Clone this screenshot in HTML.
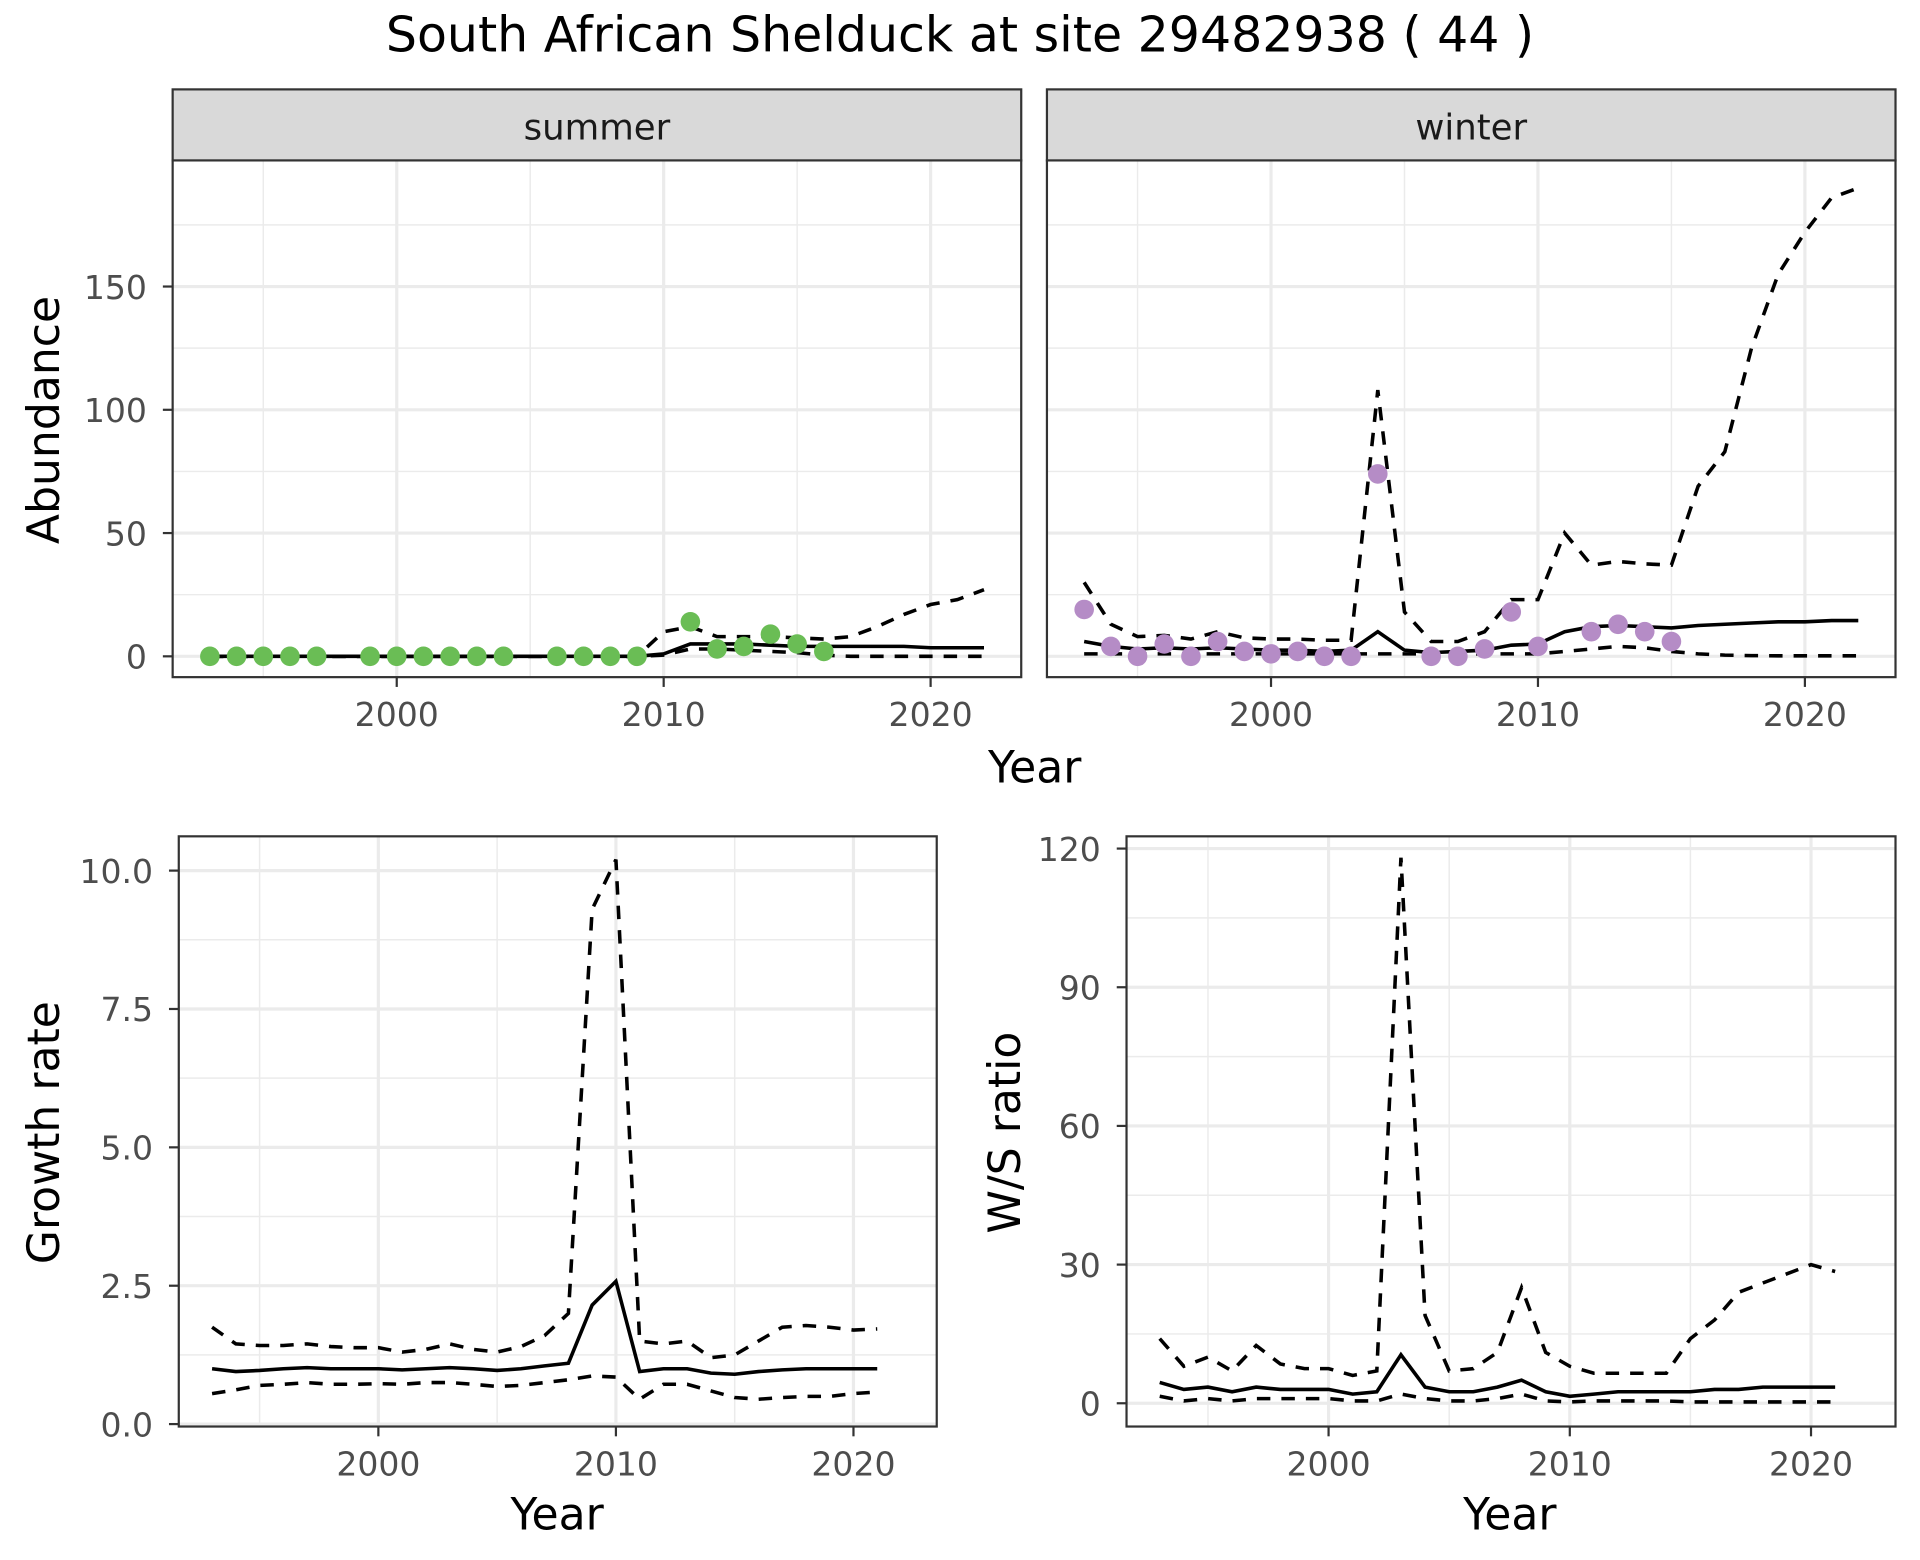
<!DOCTYPE html>
<html><head><meta charset="utf-8"><style>
html,body{margin:0;padding:0;background:#fff}
svg{display:block;font-family:"DejaVu Sans","Liberation Sans",sans-serif}
</style></head><body>
<svg id="c" width="1920" height="1560" viewBox="0 0 1568 1274" preserveAspectRatio="none">
<text x="784" y="42" font-size="40" text-anchor="middle" fill="#000">South African Shelduck at site 29482938 ( 44 )</text>
</svg>
<script>
// Summer
const sumPtYears=[1993,1994,1995,1996,1997,1999,2000,2001,2002,2003,2004,2006,2007,2008,2009,2011,2012,2013,2014,2015,2016];
const sumPtVals=[0,0,0,0,0,0,0,0,0,0,0,0,0,0,0,14,3,4,9,5,2];
const sumLineYears=[1993,1994,1995,1996,1997,1998,1999,2000,2001,2002,2003,2004,2005,2006,2007,2008,2009,2010,2011,2012,2013,2014,2015,2016,2017,2018,2019,2020,2021,2022];
const sumMean=[0,0,0,0,0,0,0,0,0,0,0,0,0,0,0,0,0,1,5,5,5,4.5,4,4,4,4,4,3.5,3.5,3.5];
const sumUpper=[0,0,0,0,0,0,0,0,0,0,0,0,0,0,0,0,0,10,12,8,8,8,7.5,7,8,12,17,21,23,27];
const sumLower=[0,0,0,0,0,0,0,0,0,0,0,0,0,0,0,0,0,0.5,3,3,2.5,2,1.5,0.5,0,0,0,0,0,0];
// Winter
const winPtYears=[1993,1994,1995,1996,1997,1998,1999,2000,2001,2002,2003,2004,2006,2007,2008,2009,2010,2012,2013,2014,2015];
const winPtVals=[19,4,0,5,0,6,2,1,2,0,0,74,0,0,3,18,4,10,13,10,6];
const winLineYears=sumLineYears;
const winMean=[6,4,3,3.5,3,3.5,3,2.5,2.5,2,2.5,10,2.5,1.5,2,2.5,4.5,5,10,12,12.5,12,11.5,12.5,13,13.5,14,14,14.5,14.5];
const winUpper=[30,13,8,8.5,7,10,7.5,7,7,6.5,6.5,108,18,6,6,10,23,23,50,37,38.5,37.5,37,69,83,125,155,172,186,190];
const winLower=[1,1,1,1,1,1,1,1,1,1,1,1,1,1,1,1,1,1,2,3,4,3.5,2,1,0.5,0.3,0.2,0.2,0.2,0.2];
// Growth rate
const grYears=[1993,1994,1995,1996,1997,1998,1999,2000,2001,2002,2003,2004,2005,2006,2007,2008,2009,2010,2011,2012,2013,2014,2015,2016,2017,2018,2019,2020,2021];
const grMean=[1.0,0.95,0.97,1.0,1.02,1.0,1.0,1.0,0.98,1.0,1.02,1.0,0.97,1.0,1.05,1.1,2.15,2.58,0.95,1.0,1.0,0.92,0.9,0.95,0.98,1.0,1.0,1.0,1.0];
const grUpper=[1.75,1.45,1.42,1.42,1.45,1.4,1.38,1.38,1.3,1.35,1.45,1.35,1.3,1.4,1.6,2.0,9.3,10.2,1.5,1.45,1.5,1.2,1.25,1.5,1.75,1.78,1.75,1.7,1.72];
const grLower=[0.55,0.62,0.7,0.72,0.75,0.72,0.72,0.73,0.72,0.75,0.75,0.72,0.68,0.7,0.75,0.8,0.87,0.85,0.45,0.72,0.72,0.6,0.48,0.45,0.48,0.5,0.5,0.55,0.58];
// W/S ratio
const wsYears=grYears;
const wsMean=[4.5,3,3.5,2.5,3.5,3,3,3,2,2.5,10.5,3.5,2.5,2.5,3.5,5,2.5,1.5,2,2.5,2.5,2.5,2.5,3,3,3.5,3.5,3.5,3.5];
const wsUpper=[14,8,10,7,12.5,8.5,7.5,7.5,6,7,118,19,7,7.5,11,25,11,8,6.5,6.5,6.5,6.5,14,18,24,26,28,30,28.5];
const wsLower=[1.5,0.5,1,0.5,1,1,1,1,0.5,0.5,2,1,0.5,0.5,1,2,0.5,0.3,0.5,0.5,0.5,0.5,0.3,0.3,0.3,0.3,0.3,0.3,0.3];
const xTicks=[2000,2010,2020];
const abTicks=[0,50,100,150];
const grTicks=[0,2.5,5,7.5,10];
const grTickLabels=["0.0","2.5","5.0","7.5","10.0"];
const wsTicks=[0,30,60,90,120];

const svg=document.getElementById('c');
const NS='http://www.w3.org/2000/svg';
function mk(tag,attrs,parent){const e=document.createElementNS(NS,tag);for(const k in attrs)e.setAttribute(k,attrs[k]);(parent||svg).appendChild(e);return e;}

function panel(o){
  const g=mk('g',{});
  
  
  const sx=v=>o.x0+(v-o.xa)*(o.x1-o.x0)/(o.xb-o.xa);
  const sy=v=>o.y0+(v-o.ya)*(o.y1-o.y0)/(o.yb-o.ya);
  mk('rect',{x:o.L,y:o.T,width:o.R-o.L,height:o.B-o.T,fill:'#fff'},g);
  for(const m of o.yMinor){const y=sy(m);if(y>o.T&&y<o.B)mk('line',{x1:o.L,x2:o.R,y1:y,y2:y,stroke:'#ebebeb','stroke-width':1.2},g);}
  for(const m of [1995,2005,2015]){const x=sx(m);mk('line',{x1:x,x2:x,y1:o.T,y2:o.B,stroke:'#ebebeb','stroke-width':1.2},g);}
  for(const t of o.yTicks){const y=sy(t);mk('line',{x1:o.L,x2:o.R,y1:y,y2:y,stroke:'#ebebeb','stroke-width':2.6},g);}
  for(const t of xTicks){const x=sx(t);mk('line',{x1:x,x2:x,y1:o.T,y2:o.B,stroke:'#ebebeb','stroke-width':2.6},g);}
  const line=(xs,ys,dash,nm)=>{const p=mk('polyline',{points:xs.map((x,i)=>sx(x).toFixed(1)+','+sy(ys[i]).toFixed(1)).join(' '),fill:'none',stroke:'#000','stroke-width':2.9,'stroke-dasharray':dash?'11,9':'none'},g);
    
    };
  line(o.lx,o.up,true,'upper-ci-line');
  line(o.lx,o.lo,true,'lower-ci-line');
  line(o.lx,o.mean,false,'mean-line');
  if(o.px){o.px.forEach((x,i)=>{const c=mk('circle',{cx:sx(x),cy:sy(o.pv[i]),r:8,fill:o.pc},g);
    
    });}
  mk('rect',{x:o.L,y:o.T,width:o.R-o.L,height:o.B-o.T,fill:'none',stroke:'#333','stroke-width':1.8},g);
  if(o.showY){o.yTicks.forEach((t,i)=>{const y=sy(t);mk('line',{x1:o.L-8,x2:o.L,y1:y,y2:y,stroke:'#333','stroke-width':1.8},g);
    const tx=mk('text',{x:o.L-21,y:y+10,'font-size':27,'text-anchor':'end',fill:'#4d4d4d'},g);tx.textContent=o.yLabels[i];
    
    });}
  for(const t of xTicks){const x=sx(t);mk('line',{x1:x,x2:x,y1:o.B,y2:o.B+8,stroke:'#333','stroke-width':1.8},g);
    const tx=mk('text',{x:x,y:o.B+40,'font-size':27,'text-anchor':'middle',fill:'#4d4d4d'},g);tx.textContent=t;
    
    }
  if(o.strip){const s=mk('rect',{x:o.L,y:o.T-58,width:o.R-o.L,height:58,fill:'#d9d9d9',stroke:'#333','stroke-width':1.8},g);
    
    
    const tx=mk('text',{x:(o.L+o.R)/2,y:o.T-17,'font-size':29,'text-anchor':'middle',fill:'#1a1a1a'},g);tx.textContent=o.strip;
    
    }
}
const abMinor=[25,75,125,175];
panel({name:'summer-panel',L:141,R:834,T:131,B:553,xa:2000,xb:2020,x0:324,x1:760,ya:0,yb:150,y0:536,y1:234,
  yTicks:abTicks,yLabels:abTicks.map(String),yMinor:abMinor,showY:true,strip:'summer',
  lx:sumLineYears,mean:sumMean,up:sumUpper,lo:sumLower,px:sumPtYears,pv:sumPtVals,pc:'#6abd55'});
panel({name:'winter-panel',L:855,R:1548,T:131,B:553,xa:2000,xb:2020,x0:1038,x1:1474,ya:0,yb:150,y0:536,y1:234,
  yTicks:abTicks,yLabels:abTicks.map(String),yMinor:abMinor,showY:false,strip:'winter',
  lx:winLineYears,mean:winMean,up:winUpper,lo:winLower,px:winPtYears,pv:winPtVals,pc:'#b58cc6'});
panel({name:'growth-rate-panel',L:146,R:765,T:683,B:1165,xa:2000,xb:2020,x0:309,x1:697,ya:0,yb:10,y0:1163,y1:711,
  yTicks:grTicks,yLabels:grTickLabels,yMinor:[1.25,3.75,6.25,8.75],showY:true,
  lx:grYears,mean:grMean,up:grUpper,lo:grLower});
panel({name:'ws-ratio-panel',L:920,R:1548,T:683,B:1165,xa:2000,xb:2020,x0:1085,x1:1479,ya:0,yb:120,y0:1146,y1:693,
  yTicks:wsTicks,yLabels:wsTicks.map(String),yMinor:[15,45,75,105],showY:true,
  lx:wsYears,mean:wsMean,up:wsUpper,lo:wsLower});

function label(txt,x,y,rot,nm){const t=mk('text',{x:x,y:y,'font-size':36,'text-anchor':'middle',fill:'#000',transform:rot?`rotate(-90 ${x} ${y})`:''});t.textContent=txt;
  
  }
label('Year',845,639,false,'x-axis-title-top');
label('Abundance',48,343,true,'y-axis-title-abundance');
label('Year',455,1249,false,'x-axis-title-growth');
label('Year',1233,1249,false,'x-axis-title-ws');
label('Growth rate',48,925,true,'y-axis-title-growth');
label('W/S ratio',833,925,true,'y-axis-title-ws');
</script>
</body></html>
